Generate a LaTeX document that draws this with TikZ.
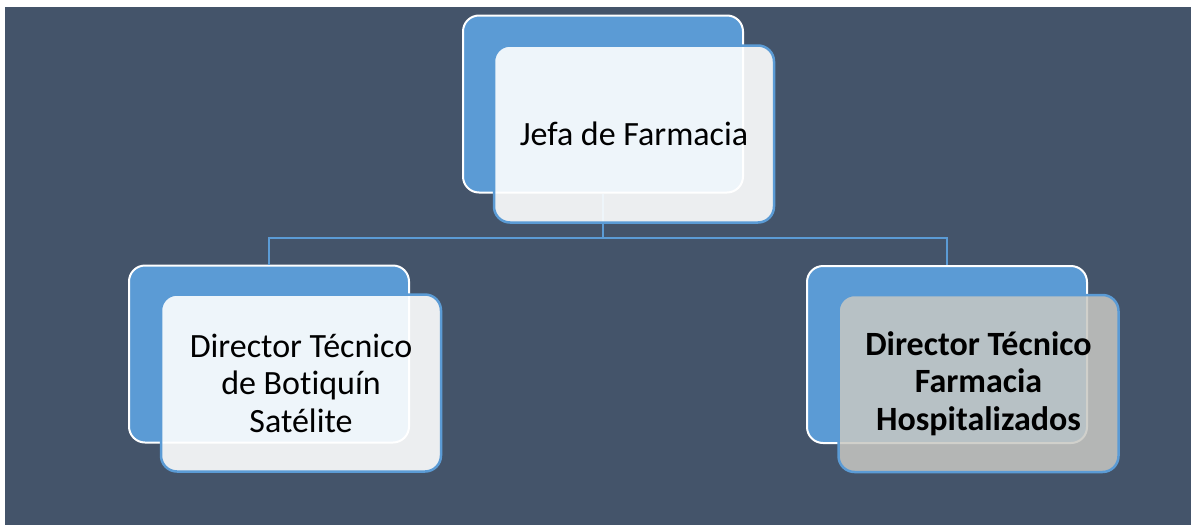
\documentclass[tikz,border=0pt]{standalone}
\usepackage{fontspec}
\setmainfont{Carlito}[Ligatures=NoCommon]
\usetikzlibrary{positioning}
\definecolor{slate}{HTML}{44546A}
\definecolor{accent}{HTML}{5B9BD5}
\definecolor{shade}{RGB}{200,200,195}
\tikzset{
  backbox/.style={draw=white, fill=accent, line width=2pt, rounded corners=16pt,
    minimum width=280pt, minimum height=177pt},
  frontbox/.style={draw=accent, fill=white, fill opacity=0.9, text opacity=1,
    line width=2.5pt, rounded corners=16pt, minimum width=280pt, minimum height=177pt,
    align=center, font=\fontsize{34}{37.5}\selectfont},
  link/.style={draw=accent, line width=1.6pt}
}
\begin{document}
\begin{tikzpicture}[x=1pt, y=-1pt]
  \fill[white] (0,0) rectangle (1191,525);
  \fill[slate] (5,7) rectangle (1191,525);
  \useasboundingbox (0,0) rectangle (1191,525);

  % back boxes
  \node[backbox] (jefa)   at (603,104)   {};
  \node[backbox] (botiq)  at (269,354)   {};
  \node[backbox] (hospit) at (947,354.5) {};

  % connectors
  \coordinate (fork) at (603,238);
  \draw[link] (jefa.south) -- (fork) -| (botiq.north);
  \draw[link] (fork) -| (hospit.north);

  % front boxes
  \node[frontbox] (jefaT)   at (634,134)     {Jefa de Farmacia};
  \node[frontbox] (botiqT)  at (301,383)     {Director Técnico\\de Botiquín\\Satélite};
  \node[frontbox, fill=shade, fill opacity=0.85, font=\fontsize{34}{37.5}\selectfont\bfseries]
    (hospitT) at (978.5,383.5) {Director Técnico\\Farmacia\\Hospitalizados};
\end{tikzpicture}
\end{document}
